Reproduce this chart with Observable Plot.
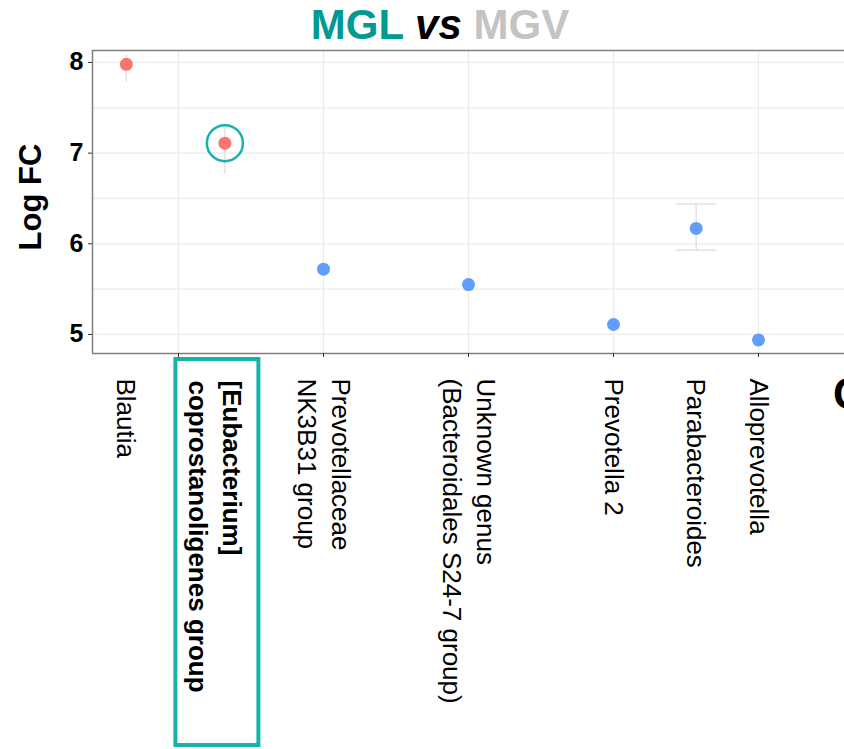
<!DOCTYPE html>
<html>
<head>
<meta charset="utf-8">
<script src="https://cdn.jsdelivr.net/npm/d3@7"></script>
<script src="https://cdn.jsdelivr.net/npm/@observablehq/plot@0.6"></script>
<style>
  html, body { margin: 0; padding: 0; background: #fff; overflow: hidden; }
  #wrap { position: relative; width: 844px; height: 749px; overflow: hidden; }
  #title { position: absolute; left: 440px; top: 3px; transform: translateX(-50%);
           font-family: "Liberation Sans", Arial, sans-serif; font-weight: bold;
           font-size: 42px; line-height: 44px; white-space: nowrap; z-index: 2; }
  #panel { position: absolute; left: 833px; top: 372px; font-family: "Liberation Sans", Arial, sans-serif;
           font-weight: bold; font-size: 44px; line-height: 44px; z-index: 2; }
  svg { font-family: "Liberation Sans", Arial, sans-serif; }
  g[aria-label="y-axis tick label"] text { font-weight: bold; }
</style>
</head>
<body>
<div id="wrap">
  <div id="title"><span style="color:#009A93">MGL</span> <i style="color:#000">vs</i> <span style="color:#C4C4C4">MGV</span></div>
  <div id="panel">C</div>
  <div id="chart"></div>
</div>
<script>
// ---- data ----
const categories = [
  "Blautia",
  "[Eubacterium]\ncoprostanoligenes group",
  "Prevotellaceae\nNK3B31 group",
  "Unknown genus\n(Bacteroidales S24-7 group)",
  "Prevotella 2",
  "Parabacteroides",
  "Alloprevotella"
];
const positions = [-0.36, 0.32, 1.0, 2.0, 3.0, 3.57, 4.0];
const logFC   = [7.98, 7.11, 5.72, 5.55, 5.11, 6.17, 4.94];
const lowerFC = [7.78, 6.77, 5.70, 5.53, 5.09, 5.93, 4.92];
const upperFC = [8.08, 7.28, 5.74, 5.57, 5.13, 6.44, 4.96];
const enriched = ["MGL", "MGL", "MGV", "MGV", "MGV", "MGV", "MGV"];
const capped = ["Parabacteroides"];
const highlighted = "[Eubacterium]\ncoprostanoligenes group";
const yTicks = [5, 6, 7, 8];
const yGrid = [5, 5.5, 6, 6.5, 7, 7.5, 8];
const xGrid = [0, 1, 2, 3, 4];
const xDomain = [-0.593, 4.593];
const yDomain = [4.79, 8.132];

const data = categories.map((name, i) => ({
  name, pos: positions[i], fc: logFC[i], lo: lowerFC[i], hi: upperFC[i], group: enriched[i]
}));

const teal = "#17B3AA";
const capSymbol = { draw(ctx) { ctx.moveTo(-20, 0); ctx.lineTo(20, 0); } };

function highlightBox(index, scales, values, dims) {
  const d = data.find(e => e.name === highlighted);
  const cx = scales.x(d.pos);
  const top = dims.height - dims.marginBottom + 6;
  const g = d3.create("svg:g");
  g.append("rect")
    .attr("x", cx - 49).attr("y", top)
    .attr("width", 83).attr("height", dims.height - top - 4)
    .attr("fill", "none").attr("stroke", teal).attr("stroke-width", 4);
  return g.node();
}

const chart = Plot.plot({
  width: 844,
  height: 749,
  marginTop: 50,
  marginBottom: 396,
  marginLeft: 92,
  marginRight: 0,
  x: { domain: xDomain },
  y: { domain: yDomain },
  color: { domain: ["MGL", "MGV"], range: ["#F8766D", "#619CFF"] },
  style: { background: "#fff", color: "black" },
  marks: [
    Plot.gridY(yGrid, { stroke: "#EBEBEB", strokeOpacity: 1, strokeWidth: 1.2 }),
    Plot.gridX(xGrid, { stroke: "#EBEBEB", strokeOpacity: 1, strokeWidth: 1.2 }),
    Plot.ruleX([xDomain[0]], { stroke: "#7F7F7F", strokeWidth: 1.5 }),
    Plot.ruleY([yDomain[0], yDomain[1]], { stroke: "#7F7F7F", strokeWidth: 1.5 }),
    Plot.axisY({ ticks: yTicks, tickFormat: d3.format("d"), tickSize: 4, tickPadding: 5, fontSize: 25, label: null, stroke: "#333" }),
    Plot.axisX({ ticks: xGrid, tickSize: 4, tickFormat: () => "", label: null, stroke: "#333" }),
    Plot.text(["Log FC"], { frameAnchor: "left", rotate: -90, textAnchor: "middle", dx: -61, dy: -5, fontSize: 31, fontWeight: "bold", fill: "black" }),
    Plot.ruleX(data, { x: "pos", y1: "lo", y2: "hi", stroke: "#E2E2E2", strokeWidth: 1.5 }),
    Plot.dot(data.filter(d => capped.includes(d.name)), { x: "pos", y: "hi", symbol: capSymbol, stroke: "#E2E2E2", strokeWidth: 1.5, fill: "none" }),
    Plot.dot(data.filter(d => capped.includes(d.name)), { x: "pos", y: "lo", symbol: capSymbol, stroke: "#E2E2E2", strokeWidth: 1.5, fill: "none" }),
    Plot.dot(data, { x: "pos", y: "fc", fill: "group", r: 6.5 }),
    Plot.dot(data.filter(d => d.name === highlighted), { x: "pos", y: "fc", r: 18, stroke: teal, strokeWidth: 2.5, fill: "none" }),
    Plot.text(data.filter(d => d.name !== highlighted), {
      x: "pos", text: "name", frameAnchor: "bottom", rotate: 90, textAnchor: "start", lineAnchor: "middle",
      dy: 25, dx: 2, fontSize: 26, lineHeight: 1.3, fill: "black"
    }),
    Plot.text(data.filter(d => d.name === highlighted), {
      x: "pos", text: "name", frameAnchor: "bottom", rotate: 90, textAnchor: "start", lineAnchor: "middle",
      dy: 27, dx: -8, fontSize: 26, lineHeight: 1.3, fontWeight: "bold", fill: "black"
    }),
    highlightBox
  ]
});
document.getElementById("chart").appendChild(chart);
</script>
</body>
</html>
